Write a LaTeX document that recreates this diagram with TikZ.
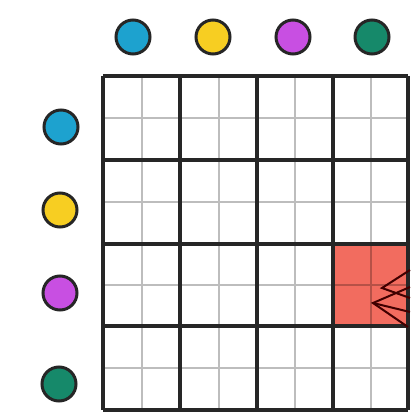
\documentclass[tikz,border=0pt]{standalone}
\definecolor{cblue}{HTML}{1DA2CF}
\definecolor{cyellow}{HTML}{F7CE22}
\definecolor{cpurple}{HTML}{C84FE2}
\definecolor{cgreen}{HTML}{16896A}
\definecolor{cred}{HTML}{F26C5F}
\definecolor{thingray}{HTML}{BDBDBD}
\tikzset{
  dot/.style={circle,draw=black!85,line width=3pt,minimum size=34pt,inner sep=0pt},
  thinline/.style={thingray,line width=2.4pt},
  thickline/.style={black!85,line width=3.6pt},
  chev/.style={black!75!red,line width=2pt,line join=miter}
}
\begin{document}
\begin{tikzpicture}[x=1pt,y=-1pt]
\useasboundingbox (0,0) rectangle (412,419);
% thin lines
\foreach \x in {142,219,295,371} \draw[thinline] (\x,76) -- (\x,410);
\foreach \y in {118,202,285,368} \draw[thinline] (103,\y) -- (408,\y);
% red cell
\fill[cred] (333,244) rectangle (408,326);
\draw[cred!75!black,line width=1.4pt] (371,244) -- (371,326);
\draw[cred!75!black,line width=1.4pt] (333,285) -- (408,285);
% thick lines
\foreach \x in {103,180,257,333,408} \draw[thickline] (\x,76) -- (\x,410);
\foreach \y in {76,160,244,326,410} \draw[thickline] (103,\y) -- (408,\y);
% chevrons
\coordinate (a1) at (410,270);
\coordinate (a2) at (382,288);
\coordinate (a3) at (410,298);
\coordinate (b1) at (410,287);
\coordinate (b2) at (373,303);
\coordinate (b3) at (408,327);
\draw[chev] (a1) -- (a2) -- (a3);
\draw[chev] (b1) -- (b2) -- (b3);
\draw[chev] (b2) -- (410,312);
% dots
\node[dot,fill=cblue] (t1) at (133,37) {};
\node[dot,fill=cyellow] (t2) at (213,37) {};
\node[dot,fill=cpurple] (t3) at (293,37) {};
\node[dot,fill=cgreen] (t4) at (372,37) {};
\node[dot,fill=cblue] (l1) at (61,127) {};
\node[dot,fill=cyellow] (l2) at (60,210) {};
\node[dot,fill=cpurple] (l3) at (60,293) {};
\node[dot,fill=cgreen] (l4) at (59,384) {};
\end{tikzpicture}
\end{document}
